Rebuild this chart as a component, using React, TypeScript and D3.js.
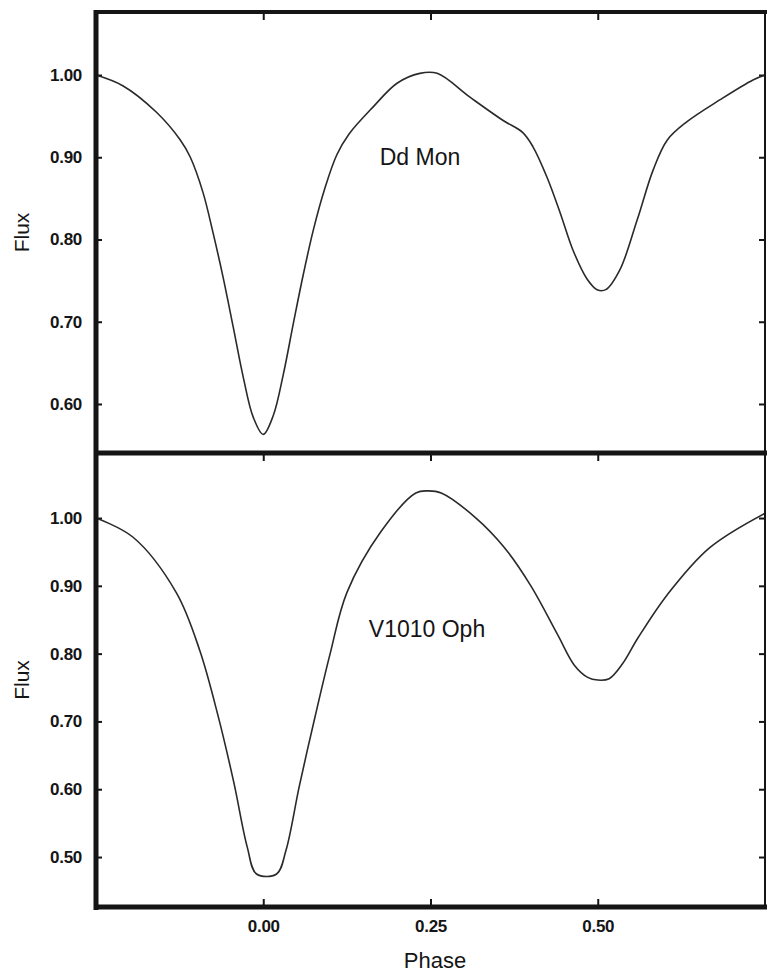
import React, { useEffect, useRef } from 'react';
import * as d3 from 'd3';

// Dd Mon light curve (top panel)
const PHASE_DD = [-0.25, -0.21, -0.16, -0.124, -0.109, -0.09, -0.075, -0.06, -0.045, -0.03, -0.015, 0.0, 0.015, 0.03, 0.045, 0.06, 0.075, 0.092, 0.11, 0.128, 0.164, 0.2, 0.234, 0.26, 0.309, 0.358, 0.388, 0.403, 0.424, 0.444, 0.463, 0.484, 0.499, 0.512, 0.533, 0.559, 0.583, 0.604, 0.633, 0.683, 0.732, 0.75];
const FLUX_DD = [1.0, 0.987, 0.955, 0.921, 0.9, 0.857, 0.808, 0.754, 0.694, 0.633, 0.584, 0.563, 0.586, 0.636, 0.698, 0.758, 0.812, 0.862, 0.903, 0.928, 0.961, 0.99, 1.002, 1.002, 0.973, 0.945, 0.93, 0.913, 0.876, 0.832, 0.787, 0.752, 0.739, 0.739, 0.763, 0.824, 0.885, 0.921, 0.943, 0.97, 0.994, 1.0];

// V1010 Oph light curve (bottom panel)
const PHASE_V = [-0.25, -0.195, -0.13, -0.095, -0.068, -0.044, -0.024, -0.01, 0.02, 0.034, 0.054, 0.077, 0.1, 0.125, 0.176, 0.228, 0.247, 0.266, 0.318, 0.36, 0.4, 0.44, 0.465, 0.485, 0.5, 0.517, 0.537, 0.56, 0.604, 0.667, 0.75];
const FLUX_V = [1.0, 0.972, 0.89, 0.805, 0.71, 0.61, 0.515, 0.475, 0.475, 0.51, 0.605, 0.705, 0.8, 0.89, 0.98, 1.037, 1.04, 1.037, 1.0, 0.957, 0.9, 0.828, 0.783, 0.765, 0.761, 0.763, 0.785, 0.823, 0.887, 0.956, 1.007];

const X_TICKS = [0, 0.25, 0.5];
const Y_TICKS_TOP = [0.6, 0.7, 0.8, 0.9, 1.0];
const Y_TICKS_BOTTOM = [0.5, 0.6, 0.7, 0.8, 0.9, 1.0];

const W = 767;
const H = 977;

export default function App() {
  const ref = useRef<SVGSVGElement>(null);

  useEffect(() => {
    const svg = d3.select(ref.current);
    svg.selectAll('*').remove();

    const left = 96, right = 765, top = 12, mid = 453, bottom = 907;
    const ink = '#151515';
    const tickFont = 'bold 17px "Liberation Sans", Arial, sans-serif';

    const x = d3.scaleLinear().domain([-0.25, 0.75]).range([left, right]);
    const yTop = d3.scaleLinear().domain([0.5404, 1.0766]).range([mid, top]);
    const yBot = d3.scaleLinear().domain([0.4263, 1.0959]).range([bottom, mid]);

    const styleAxis = (g: any) => {
      g.select('.domain').remove();
      g.selectAll('line').attr('stroke', ink).attr('stroke-width', 2);
      g.selectAll('text').attr('fill', ink).style('font', tickFont).style('letter-spacing', '-0.3px');
    };

    const panels = [
      { y: yTop, ticks: Y_TICKS_TOP, phase: PHASE_DD, flux: FLUX_DD, y0: top, y1: mid, name: 'Dd Mon', lx: 420, ly: 157 },
      { y: yBot, ticks: Y_TICKS_BOTTOM, phase: PHASE_V, flux: FLUX_V, y0: mid, y1: bottom, name: 'V1010 Oph', lx: 427, ly: 629 },
    ];

    panels.forEach((p) => {
      // y axes, ticks pointing inward on both sides
      svg.append('g')
        .attr('transform', `translate(${left},0)`)
        .call(d3.axisLeft(p.y).tickValues(p.ticks).tickSizeInner(-6).tickSizeOuter(0).tickPadding(14).tickFormat(d3.format('.2f')))
        .call(styleAxis);
      svg.append('g')
        .attr('transform', `translate(${right},0)`)
        .call(d3.axisRight(p.y).tickValues(p.ticks).tickSizeInner(-6).tickSizeOuter(0).tickFormat(() => ''))
        .call(styleAxis);
      // top edge ticks pointing down
      svg.append('g')
        .attr('transform', `translate(0,${p.y0})`)
        .call(d3.axisTop(x).tickValues(X_TICKS).tickSizeInner(-8).tickSizeOuter(0).tickFormat(() => ''))
        .call(styleAxis);

      const line = d3.line<number>()
        .x((_, i) => x(p.phase[i]))
        .y((d) => p.y(d))
        .curve(d3.curveCatmullRom.alpha(0.5));

      svg.append('path')
        .datum(p.flux)
        .attr('d', line)
        .attr('fill', 'none')
        .attr('stroke', '#2a2a2a')
        .attr('stroke-width', 1.6);

      svg.append('text')
        .attr('x', p.lx)
        .attr('y', p.ly)
        .attr('text-anchor', 'middle')
        .attr('dominant-baseline', 'central')
        .attr('fill', ink)
        .style('font', '23px "Liberation Sans", Arial, sans-serif')
        .text(p.name);

      svg.append('text')
        .attr('transform', `translate(21,${(p.y0 + p.y1) / 2}) rotate(-90)`)
        .attr('text-anchor', 'middle')
        .attr('dominant-baseline', 'central')
        .attr('fill', ink)
        .style('font', '21px "Liberation Sans", Arial, sans-serif')
        .text('Flux');
    });

    // bottom x axis with labels
    svg.append('g')
      .attr('transform', `translate(0,${bottom})`)
      .call(d3.axisBottom(x).tickValues(X_TICKS).tickSizeInner(-8).tickSizeOuter(0).tickPadding(13).tickFormat(d3.format('.2f')))
      .call(styleAxis);

    // frame
    const frame = svg.append('g').attr('stroke', ink).attr('fill', 'none');
    frame.append('line').attr('x1', left).attr('x2', left).attr('y1', top - 2).attr('y2', bottom + 3).attr('stroke-width', 5);
    frame.append('line').attr('x1', left - 2).attr('x2', W).attr('y1', top).attr('y2', top).attr('stroke-width', 4);
    frame.append('line').attr('x1', left - 2).attr('x2', W).attr('y1', mid).attr('y2', mid).attr('stroke-width', 5);
    frame.append('line').attr('x1', left - 2).attr('x2', W).attr('y1', bottom).attr('y2', bottom).attr('stroke-width', 5);
    frame.append('line').attr('x1', right).attr('x2', right).attr('y1', top).attr('y2', bottom).attr('stroke-width', 2);

    svg.append('text')
      .attr('x', 435)
      .attr('y', 960)
      .attr('text-anchor', 'middle')
      .attr('dominant-baseline', 'central')
      .attr('fill', ink)
      .style('font', '22px "Liberation Sans", Arial, sans-serif')
      .text('Phase');
  }, []);

  return (
    <svg
      ref={ref}
      width={W}
      height={H}
      style={{ position: 'absolute', left: 0, top: 0, background: '#fff' }}
    />
  );
}
